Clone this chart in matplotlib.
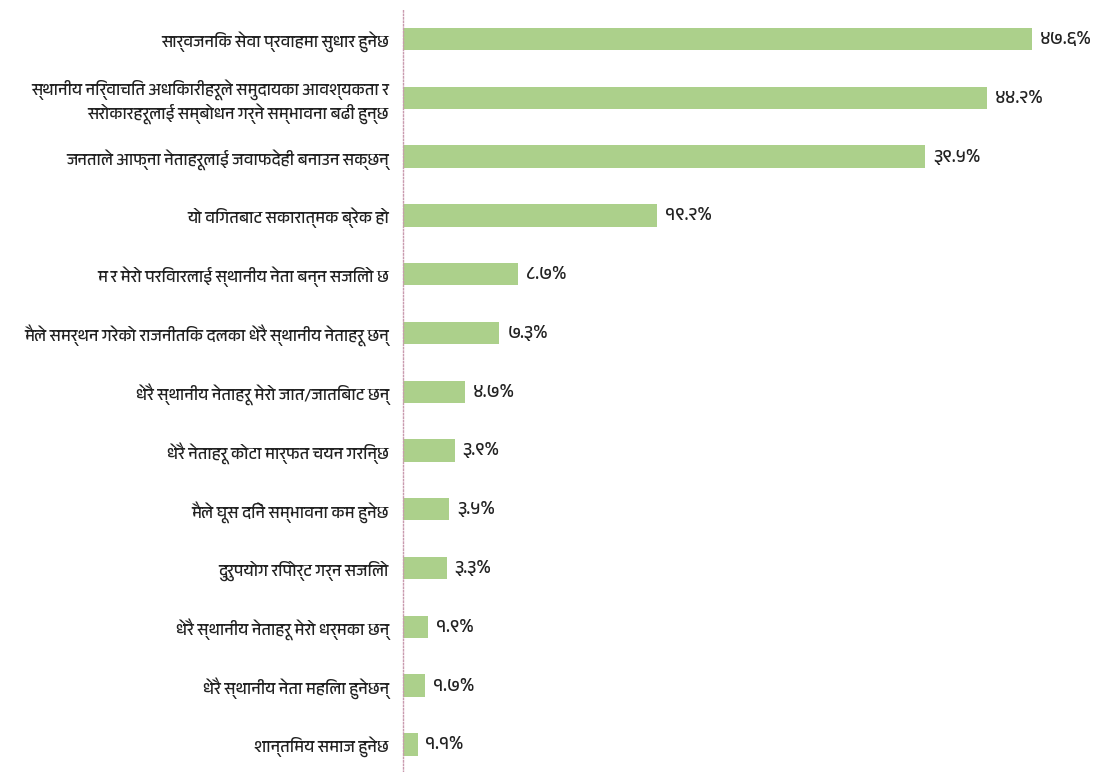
import matplotlib
matplotlib.use('Agg')
import matplotlib.pyplot as plt
from matplotlib import font_manager

# Categories (top to bottom) and their shares in percent
categories = [
    'सार्वजनिक सेवा प्रवाहमा सुधार हुनेछ',
    'स्थानीय निर्वाचित अधिकारीहरूले समुदायका आवश्यकता र\nसरोकारहरूलाई सम्बोधन गर्ने सम्भावना बढी हुन्छ',
    'जनताले आफ्ना नेताहरूलाई जवाफदेही बनाउन सक्छन्',
    'यो विगतबाट सकारात्मक ब्रेक हो',
    'म र मेरो परिवारलाई स्थानीय नेता बन्न सजिलो छ',
    'मैले समर्थन गरेको राजनीतिक दलका धेरै स्थानीय नेताहरू छन्',
    'धेरै स्थानीय नेताहरू मेरो जात/जातिबाट छन्',
    'धेरै नेताहरू कोटा मार्फत चयन गरिन्छ',
    'मैले घूस दिने सम्भावना कम हुनेछ',
    'दुरुपयोग रिपोर्ट गर्न सजिलो',
    'धेरै स्थानीय नेताहरू मेरो धर्मका छन्',
    'धेरै स्थानीय नेता महिला हुनेछन्',
    'शान्तिमय समाज हुनेछ',
]
values = [47.6, 44.2, 39.5, 19.2, 8.7, 7.3, 4.7, 3.9, 3.5, 3.3, 1.9, 1.7, 1.1]

# pick any installed font that has Devanagari glyphs
deva_fonts = []
for f in font_manager.fontManager.ttflist:
    if 'Devanagari' in f.name or f.name in ('Lohit Devanagari', 'Mukta', 'Kalimati', 'Mangal'):
        if f.name not in deva_fonts:
            deva_fonts.append(f.name)
plt.rcParams['font.family'] = deva_fonts + ['Noto Sans', 'DejaVu Sans']

deva_digits = str.maketrans('0123456789', '०१२३४५६७८९')

fig = plt.figure(figsize=(10.97, 7.72), dpi=100)
ax = fig.add_axes([403 / 1097, 0.0, 1 - 403 / 1097, 1 - 10 / 772])

ypos = list(range(len(values)))
ax.barh(ypos, values, height=0.38, color='#acd08b', left=0)

for y, v in zip(ypos, values):
    ax.text(v + 0.6, y, f'{v:.1f}%'.translate(deva_digits),
            va='center', ha='left', fontsize=13.5, color='#222222')

ax.set_xlim(0, 52.5)
ax.set_ylim(12.47, -0.494)
ax.set_yticks(ypos)
ax.set_yticklabels(categories, fontsize=11.8, color='#222222')
ax.tick_params(axis='y', length=0, pad=10)
ax.set_xticks([])
for s in ['top', 'right', 'bottom']:
    ax.spines[s].set_visible(False)
ax.spines['left'].set_color('#c99aae')
ax.spines['left'].set_linestyle((0, (1, 1.5)))
ax.spines['left'].set_linewidth(1)

plt.savefig('out.png', dpi=100)
